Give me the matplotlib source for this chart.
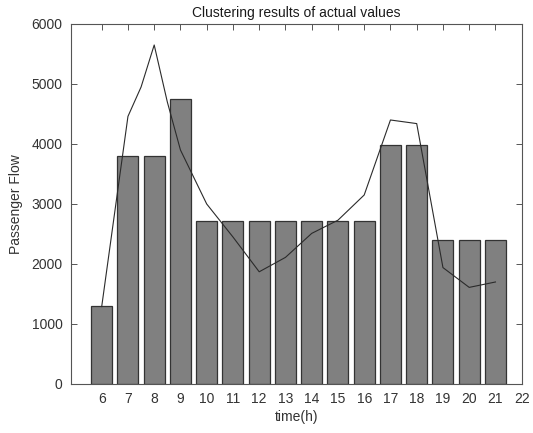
import numpy as np
import matplotlib
matplotlib.use("Agg")
import matplotlib.pyplot as plt

plt.rcParams['font.family'] = ['Liberation Sans', 'DejaVu Sans']

# Cluster centre per hour (bars)
hours = [6, 7, 8, 9, 10, 11, 12, 13, 14, 15, 16, 17, 18, 19, 20, 21]
cluster_flow = [1300, 3800, 3800, 4750, 2710, 2710, 2710, 2710, 2710, 2710,
                2710, 3980, 3980, 2405, 2405, 2405]

# Actual passenger flow (line)
actual_time = [6, 7, 7.5, 8, 8.5, 9, 10, 11, 12, 13, 14, 15, 16, 17, 18, 19, 20, 21]
actual_flow = [1290, 4460, 4950, 5650, 4700, 3900, 3000, 2450, 1870, 2110,
               2510, 2730, 3150, 4400, 4340, 1940, 1610, 1700]

xticks = list(range(6, 23))
yticks = [0, 1000, 2000, 3000, 4000, 5000, 6000]

fig = plt.figure(figsize=(5.33, 4.33), dpi=100)
ax = fig.add_axes([0.1327, 0.1132, 0.8461, 0.8314])

ax.bar(hours, cluster_flow, width=0.8, color='#808080', edgecolor='#333333',
       linewidth=0.9, zorder=2)
ax.plot(actual_time, actual_flow, color='#2b2b2b', linewidth=0.8, zorder=3)

ax.set_xlim(4.82, 22)
ax.set_ylim(0, 6000)
ax.set_xticks(xticks)
ax.set_yticks(yticks)

frame_col = '#555555'
for s in ax.spines.values():
    s.set_color(frame_col)
    s.set_linewidth(0.8)
ax.tick_params(direction='in', length=4, width=0.7, color=frame_col,
               top=True, right=True, labelsize=10, labelcolor='#333333', pad=6)

ax.set_title('Clustering results of actual values', fontsize=10, color='#1a1a1a', pad=5)
ax.set_xlabel('time(h)', fontsize=10, color='#333333', labelpad=3)
ax.set_ylabel('Passenger Flow', fontsize=10, color='#333333', labelpad=6)

fig.savefig('out.png', dpi=100)
